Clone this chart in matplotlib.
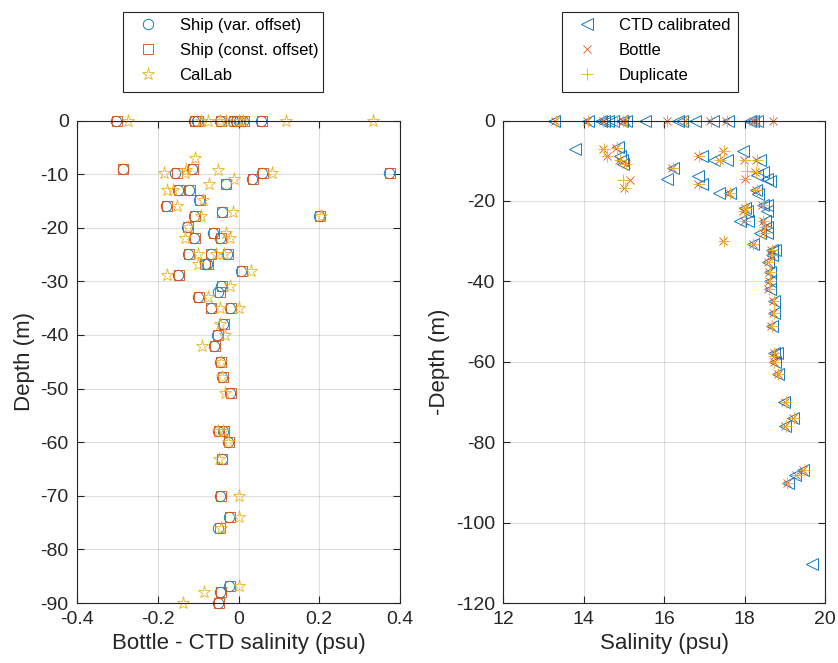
import matplotlib
matplotlib.use("Agg")
import matplotlib.pyplot as plt
from matplotlib.patches import Rectangle
import numpy as np

# ---------------- Left panel data: Bottle - CTD salinity vs depth ----------------
ship_depth = [0, 0, 0, 0, 0, 0, 0, 0, 0,
              -9.0, -9.0, -9.8, -9.8, -9.8, -10.9, -11.8, -12.9, -12.9, -14.9, -15.9,
              -17.0, -17.9, -17.9, -19.9, -21.0, -21.9, -21.9, -24.9, -24.9, -24.9,
              -26.8, -26.8, -28.0, -28.9, -30.8, -31.9, -32.9, -34.9, -34.9, -38.0,
              -40.0, -42.0, -45.0, -47.9, -50.9, -57.9, -57.9, -60.0, -63.1, -70.0,
              -74.0, -76.0, -86.9, -88.0, -90.0]
ship_var = [-0.304, -0.109, -0.104, -0.045, -0.014, -0.006, 0.002, 0.012, 0.056,
            -0.287, -0.115, -0.158, 0.058, 0.373, 0.034, -0.032, -0.150, -0.123, -0.099, -0.179,
            -0.042, -0.109, 0.200, -0.127, -0.063, -0.110, -0.047, -0.124, -0.069, -0.029,
            -0.084, -0.079, 0.006, -0.150, -0.043, -0.050, -0.100, -0.069, -0.021, -0.039,
            -0.054, -0.061, -0.046, -0.040, -0.021, -0.052, -0.038, -0.027, -0.042, -0.045,
            -0.024, -0.050, -0.024, -0.045, -0.050]
ship_const = [-0.302, -0.107, -0.101, -0.043, -0.012, -0.004, 0.004, 0.014, 0.058,
              -0.286, -0.112, -0.153, 0.060, 0.374, 0.036, -0.030, -0.148, -0.121, -0.096, -0.177,
              -0.040, -0.107, 0.202, -0.125, -0.060, -0.108, -0.044, -0.122, -0.067, -0.026,
              -0.082, -0.076, 0.008, -0.148, -0.041, -0.047, -0.098, -0.067, -0.019, -0.036,
              -0.052, -0.059, -0.044, -0.038, -0.019, -0.049, -0.035, -0.024, -0.040, -0.043,
              -0.020, -0.047, -0.020, -0.043, -0.049]

callab_depth = [0, 0, 0, 0, 0, 0, 0, 0, 0,
                -7.0, -9.2, -9.8, -9.8, -9.2, -9.8, -10.9, -11.8, -12.9, -12.9, -14.9,
                -15.9, -17.0, -17.9, -17.9, -19.9, -21.0, -21.9, -21.9, -24.9, -24.9,
                -24.9, -26.8, -28.0, -28.9, -30.8, -32.9, -34.9, -34.9, -38.0, -40.0,
                -42.0, -45.0, -47.9, -50.9, -57.9, -57.9, -60.0, -63.1, -70.0, -74.0,
                -76.0, -86.9, -88.0, -90.0]
callab = [-0.273, -0.093, -0.076, -0.045, -0.030, 0.000, 0.010, 0.118, 0.332,
          -0.107, -0.130, -0.133, -0.184, -0.051, 0.084, -0.012, -0.072, -0.176, -0.163, -0.087,
          -0.153, -0.014, -0.093, 0.205, -0.126, -0.031, -0.132, -0.022, -0.101, -0.055,
          -0.035, -0.101, 0.032, -0.176, -0.021, -0.075, -0.047, 0.000, -0.045, -0.033,
          -0.091, -0.043, -0.040, -0.033, -0.050, -0.038, -0.027, -0.049, 0.000, 0.002,
          -0.043, 0.000, -0.086, -0.137]

# ---------------- Right panel data: salinity profiles ----------------
ctd_depth = [0] * 17 + [
    -6.6, -7.0, -7.6, -8.9, -8.9, -9.9, -9.9, -9.9, -9.9, -10.8, -11.9, -12.8, -13.5,
    -13.8, -14.5, -14.5, -15.0, -15.8, -17.2, -18.0, -18.0, -18.4, -20.9, -20.9, -21.7,
    -22.6, -22.6, -24.9, -24.9, -24.9, -26.5, -28.0, -28.0, -30.8, -32.2, -32.2, -33.4,
    -35.1, -37.8, -39.9, -42.0, -44.8, -47.9, -51.1, -57.9, -57.9, -60.0, -63.1, -70.0,
    -74.0, -76.0, -87.0, -88.2, -90.1, -110.2]
ctd_sal = [13.26, 14.11, 14.42, 14.50, 14.61, 14.74, 14.95, 15.05, 15.52, 16.35, 16.44,
           16.77, 17.21, 17.60, 18.14, 18.22, 18.30,
           14.86, 13.78, 17.96, 14.89, 16.93, 14.95, 17.24, 17.57, 18.39, 14.98, 16.23, 18.47, 18.30,
           16.85, 16.06, 18.55, 18.62, 16.93, 18.28, 17.37, 17.64, 18.33, 18.46, 18.55, 18.01,
           18.05, 18.55, 17.88, 18.09, 18.51, 18.55, 18.39, 18.55, 18.22, 18.68, 18.76, 18.68,
           18.59, 18.63, 18.63, 18.62, 18.72, 18.72, 18.68, 18.72, 18.80, 18.76, 18.84, 18.98,
           19.21, 19.01, 19.46, 19.26, 19.09, 19.67]

bottle_depth = [0] * 12 + [
    -7.0, -8.8, -6.8, -9.9, -10.8, -14.8, -16.8, -7.7, -8.9, -9.9, -9.9, -9.9, -11.9,
    -12.8, -14.5, -15.8, -17.2, -18.0, -20.9, -21.7, -22.6, -24.9, -24.9, -26.5, -28.0,
    -29.9, -30.8, -32.2, -33.4, -35.1, -37.8, -39.9, -42.0, -44.8, -47.9, -51.1, -57.9,
    -58.5, -60.0, -63.1, -70.0, -74.0, -76.0, -87.0, -88.2, -90.1]
bottle_sal = [13.28, 14.08, 14.47, 14.98, 15.05, 16.06, 16.52, 17.14, 17.54, 18.20, 18.28, 18.70,
              14.49, 14.57, 14.80, 14.87, 15.04, 15.15, 15.01, 17.47, 16.85, 17.36, 17.99, 18.28, 16.20,
              18.26, 18.00, 16.85, 18.28, 17.62, 18.44, 18.01, 17.97, 17.98, 18.45, 18.50, 18.47,
              17.46, 18.20, 18.66, 18.66, 18.58, 18.60, 18.61, 18.58, 18.70, 18.70, 18.66, 18.72,
              18.72, 18.72, 18.82, 19.00, 19.21, 19.00, 19.46, 19.28, 19.06]

dup_depth = [0] * 13 + [
    -7.0, -8.8, -6.8, -9.9, -10.8, -14.8, -16.8, -7.7, -8.9, -9.9, -9.9, -9.9, -11.9,
    -12.8, -12.6, -14.5, -15.8, -17.2, -18.0, -20.9, -21.7, -22.6, -24.9, -24.9, -26.5,
    -28.0, -29.9, -30.8, -32.2, -33.4, -35.1, -37.8, -39.9, -42.0, -44.8, -47.9, -51.1,
    -57.9, -58.5, -60.0, -63.1, -70.0, -74.0, -76.0, -87.0, -88.2, -90.1]
dup_sal = [13.30, 14.10, 14.48, 14.82, 14.98, 15.06, 16.08, 16.54, 17.16, 17.56, 18.22, 18.30, 18.70,
           14.51, 14.59, 14.82, 14.89, 15.06, 14.98, 15.03, 17.49, 16.87, 17.38, 18.01, 18.30, 16.22,
           18.28, 18.05, 18.02, 16.87, 18.30, 17.64, 18.46, 18.03, 17.99, 18.00, 18.47, 18.52,
           18.49, 17.48, 18.22, 18.68, 18.68, 18.60, 18.62, 18.63, 18.60, 18.72, 18.72, 18.68,
           18.74, 18.74, 18.74, 18.84, 19.04, 19.24, 19.02, 19.48, 19.30, 19.06]

left_xticks = [-0.4, -0.2, 0, 0.2, 0.4]
left_yticks = [0, -10, -20, -30, -40, -50, -60, -70, -80, -90]
right_xticks = [12, 14, 16, 18, 20]
right_yticks = [0, -20, -40, -60, -80, -100, -120]

# ---------------- Styling ----------------
BLUE = (0.0, 0.447, 0.741)
RED = (0.85, 0.325, 0.098)
YEL = (0.929, 0.694, 0.125)
AX = (0.15, 0.15, 0.15)

plt.rcParams['font.family'] = ['Liberation Sans', 'DejaVu Sans']
plt.rcParams['axes.unicode_minus'] = False

W, H = 838, 663
fig = plt.figure(figsize=(W / 100, H / 100), dpi=100)

def px_axes(x0, x1, y0, y1):
    return fig.add_axes([x0 / W, 1 - y1 / H, (x1 - x0) / W, (y1 - y0) / H])

def style(ax, xt, yt, xlim, ylim, xlabel, ylabel):
    ax.set_xlim(*xlim)
    ax.set_ylim(*ylim)
    ax.set_xticks(xt)
    ax.set_yticks(yt)
    ax.set_xticklabels([('%g' % v) for v in xt])
    ax.set_yticklabels([('%g' % v) for v in yt])
    ax.grid(True, color=(0.15, 0.15, 0.15), alpha=0.15, linewidth=0.8)
    ax.set_axisbelow(True)
    for s in ax.spines.values():
        s.set_color(AX)
        s.set_linewidth(0.8)
    ax.tick_params(direction='in', top=True, right=True, length=5, width=0.8,
                   color=AX, labelcolor=AX, labelsize=14, pad=6)
    ax.set_xlabel(xlabel, fontsize=16, color=AX, labelpad=3)
    ax.set_ylabel(ylabel, fontsize=16, color=AX, labelpad=4)

# Left axes
ax1 = px_axes(77, 400, 120.5, 603)
ax1.plot(ship_var, ship_depth, 'o', ls='none', mfc='none', mec=BLUE, ms=7.5, mew=0.65,
         clip_on=False, label='Ship (var. offset)')
ax1.plot(ship_const, ship_depth, 's', ls='none', mfc='none', mec=RED, ms=6.8, mew=0.65,
         clip_on=False, label='Ship (const. offset)')
ax1.plot(callab, callab_depth, '*', ls='none', mfc='none', mec=YEL, ms=9.5, mew=0.6,
         clip_on=False, label='CalLab')
style(ax1, left_xticks, left_yticks, (-0.4, 0.4), (-90, 0),
      'Bottle - CTD salinity (psu)', 'Depth (m)')

# Right axes
ax2 = px_axes(503.3, 825, 120.5, 603)
ax2.plot(ctd_sal, ctd_depth, '<', ls='none', mfc='none', mec=BLUE, ms=8.5, mew=0.65,
         clip_on=False, label='CTD calibrated')
ax2.plot(bottle_sal, bottle_depth, 'x', ls='none', mec=RED, ms=6, mew=0.6,
         clip_on=False, label='Bottle')
ax2.plot(dup_sal, dup_depth, '+', ls='none', mec=YEL, ms=8, mew=0.65,
         clip_on=False, label='Duplicate')
style(ax2, right_xticks, right_yticks, (12, 20), (-120, 0),
      'Salinity (psu)', '-Depth (m)')

def legend(ax, x0, x1, y0, y1):
    lg = ax.legend(loc='upper left', bbox_to_anchor=((x0 + 9) / W, 1 - (y0 + 6) / H),
                   bbox_transform=fig.transFigure, fontsize=12, frameon=False,
                   borderpad=0, labelspacing=0.6,
                   handlelength=1.9, handletextpad=0.95, borderaxespad=0)
    for t in lg.get_texts():
        t.set_color('black')
    fig.patches.append(Rectangle((x0 / W, 1 - y1 / H), (x1 - x0) / W, (y1 - y0) / H,
                                 transform=fig.transFigure, fill=True, facecolor='white',
                                 edgecolor=AX, linewidth=0.8, zorder=-1))
    return lg

legend(ax1, 123, 323, 12, 92)
legend(ax2, 562, 738, 12, 92)

fig.savefig('out.png', dpi=100)
